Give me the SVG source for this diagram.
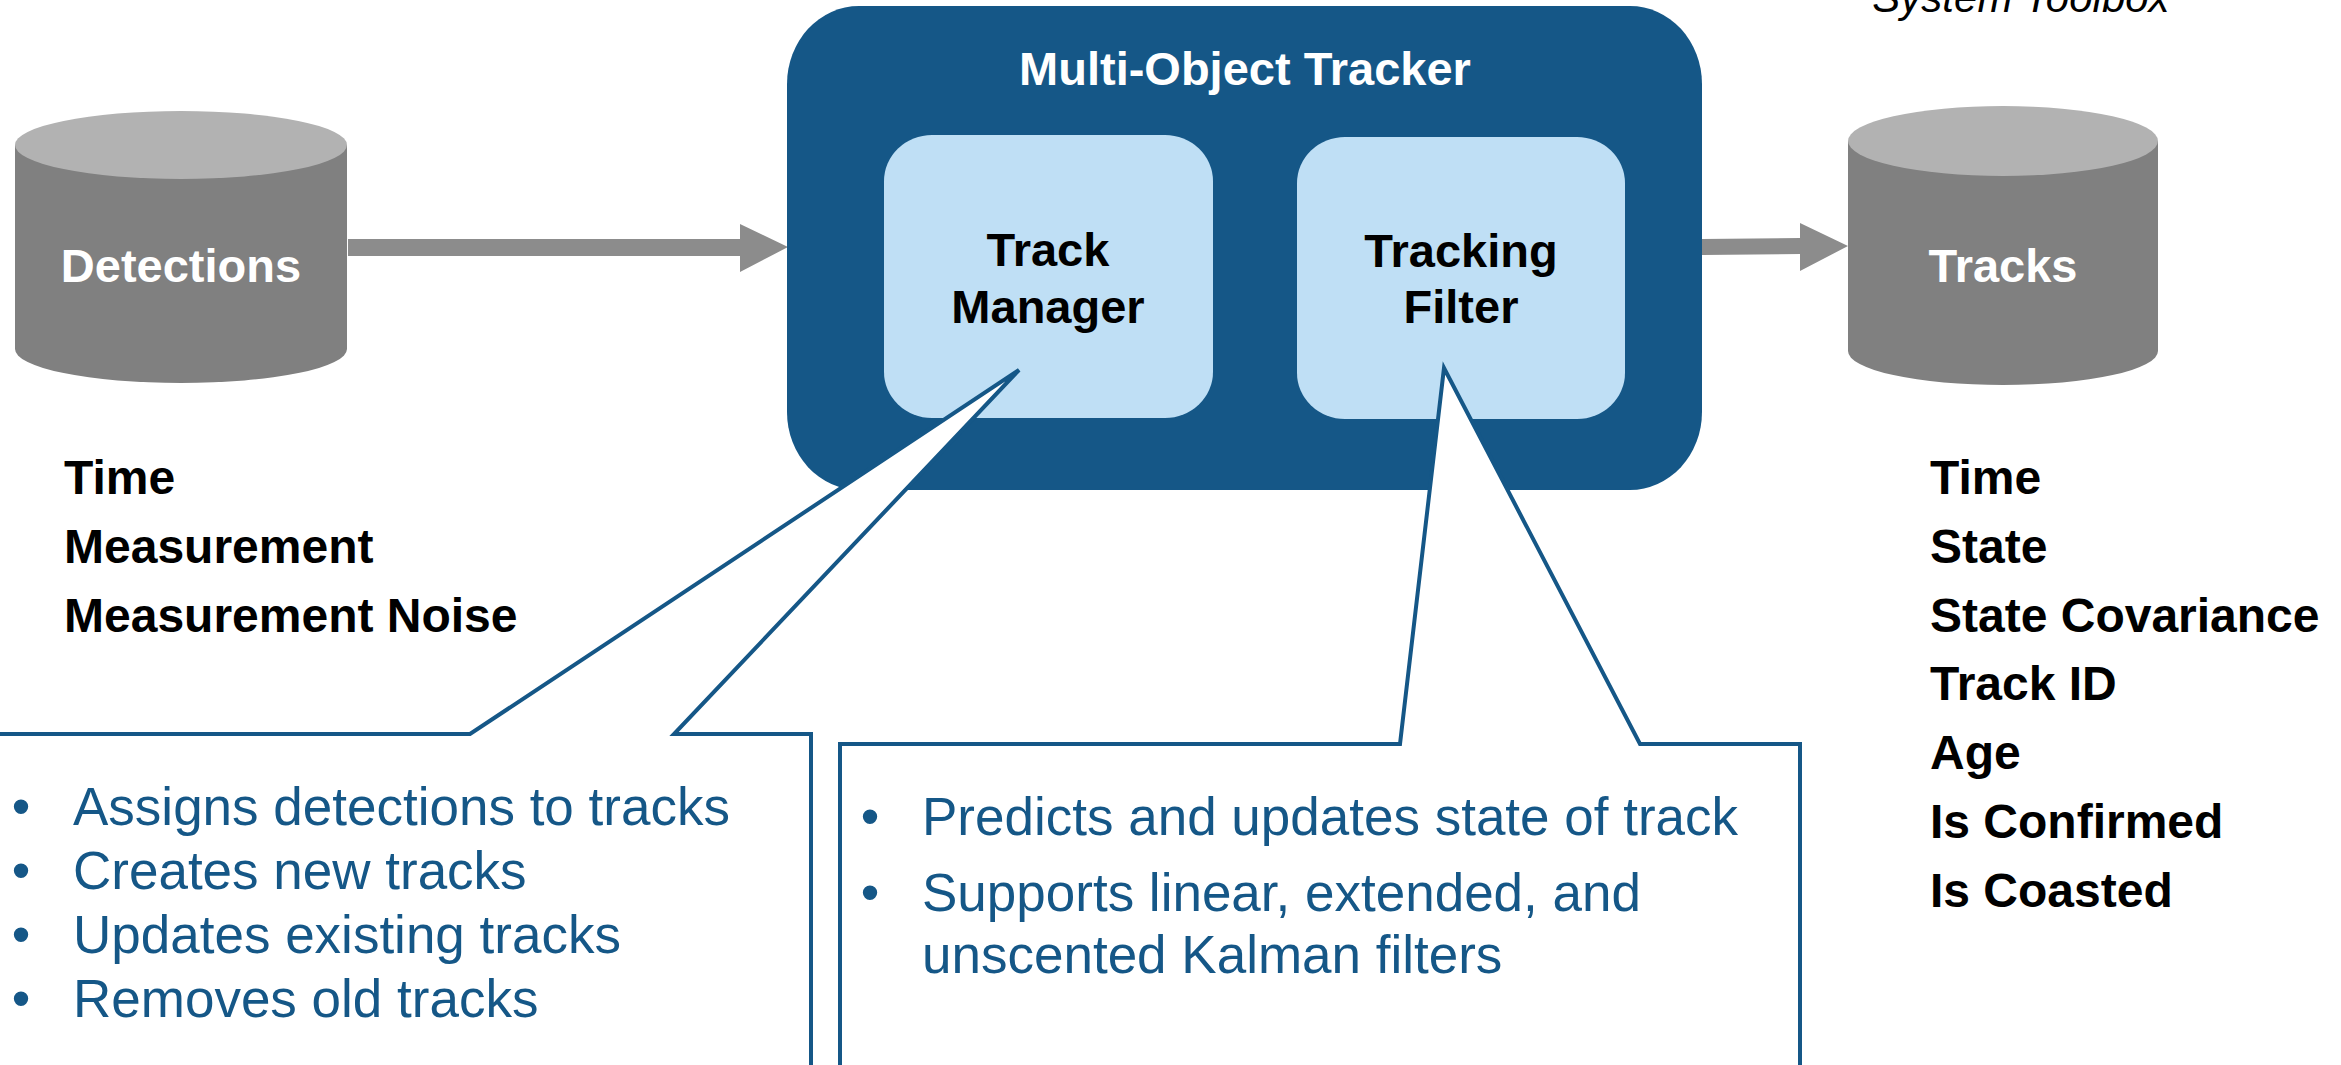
<svg xmlns="http://www.w3.org/2000/svg" width="2341" height="1065" viewBox="0 0 2341 1065">
<style>
.cylBody{fill:#808080}
.cylTop{fill:#b2b2b2}
.arrow{fill:#8c8c8c}
.lbl{font-family:"Liberation Sans",Arial,sans-serif;font-weight:bold;font-size:47px}
.wlbl{fill:#ffffff;text-anchor:middle}
.blbl{fill:#000000;text-anchor:middle}
.list{font-family:"Liberation Sans",Arial,sans-serif;font-weight:bold;font-size:48px;fill:#000000}
.callout{fill:#ffffff;stroke:#155787;stroke-width:4;stroke-linejoin:miter}
.ctext{font-family:"Liberation Sans",Arial,sans-serif;font-size:53px;fill:#155787}
.inner{fill:#bfdff5}
</style>
<rect width="2341" height="1065" fill="#ffffff"/>
<text x="2021" y="12" font-family="Liberation Sans, Arial, sans-serif" font-style="italic" font-size="42" text-anchor="middle" fill="#000000">System Toolbox</text>

<g id="connectors">
  <polygon class="arrow" points="348,239 740,239 740,224 788,247 740,272 740,256 348,256"/>
  <polygon class="arrow" points="1702,239 1800,238 1800,223 1848,246 1800,271 1800,254 1702,255"/>
</g>

<g id="detections">
  <path class="cylBody" d="M15,145 L15,349 A166,34 0 0 0 347,349 L347,145 Z"/>
  <ellipse class="cylTop" cx="181" cy="145" rx="166" ry="34"/>
  <text class="lbl wlbl" x="181" y="282">Detections</text>
</g>

<g id="detections-fields">
  <text class="list" x="64" y="494">Time</text>
  <text class="list" x="64" y="563">Measurement</text>
  <text class="list" x="64" y="632">Measurement Noise</text>
</g>

<g id="tracks">
  <path class="cylBody" d="M1848,141 L1848,351 A155,34 0 0 0 2158,351 L2158,141 Z"/>
  <ellipse class="cylTop" cx="2003" cy="141" rx="155" ry="35"/>
  <text class="lbl wlbl" x="2003" y="282">Tracks</text>
</g>

<g id="tracks-fields">
  <text class="list" x="1930" y="494">Time</text>
  <text class="list" x="1930" y="563">State</text>
  <text class="list" x="1930" y="632">State Covariance</text>
  <text class="list" x="1930" y="700">Track ID</text>
  <text class="list" x="1930" y="769">Age</text>
  <text class="list" x="1930" y="838">Is Confirmed</text>
  <text class="list" x="1930" y="907">Is Coasted</text>
</g>

<g id="multi-object-tracker">
  <rect x="787" y="6" width="915" height="484" rx="72" ry="78" fill="#155787"/>
  <text class="lbl wlbl" x="1245" y="85">Multi-Object Tracker</text>
</g>

<g id="track-manager">
  <rect class="inner" x="884" y="135" width="329" height="283" rx="48" ry="46"/>
  <text class="lbl blbl" x="1048" y="266">Track</text>
  <text class="lbl blbl" x="1048" y="323">Manager</text>
</g>

<g id="tracking-filter">
  <rect class="inner" x="1297" y="137" width="328" height="282" rx="48" ry="46"/>
  <text class="lbl blbl" x="1461" y="267">Tracking</text>
  <text class="lbl blbl" x="1461" y="323">Filter</text>
</g>

<g id="callout-track-manager">
  <path class="callout" d="M-10,734 L470,734 L1019,370 L674,734 L811,734 L811,1075 L-10,1075 Z"/>
  <g class="ctext">
    <text x="21" y="825" text-anchor="middle">•</text>
    <text x="73" y="825">Assigns detections to tracks</text>
    <text x="21" y="889" text-anchor="middle">•</text>
    <text x="73" y="889">Creates new tracks</text>
    <text x="21" y="953" text-anchor="middle">•</text>
    <text x="73" y="953">Updates existing tracks</text>
    <text x="21" y="1017" text-anchor="middle">•</text>
    <text x="73" y="1017">Removes old tracks</text>
  </g>
</g>

<g id="callout-tracking-filter">
  <path class="callout" d="M840,1075 L840,744 L1400,744 L1444,368 L1640,744 L1800,744 L1800,1075 Z"/>
  <g class="ctext">
    <text x="870" y="835" text-anchor="middle">•</text>
    <text x="922" y="835">Predicts and updates state of track</text>
    <text x="870" y="911" text-anchor="middle">•</text>
    <text x="922" y="911">Supports linear, extended, and</text>
    <text x="922" y="973">unscented Kalman filters</text>
  </g>
</g>
</svg>
